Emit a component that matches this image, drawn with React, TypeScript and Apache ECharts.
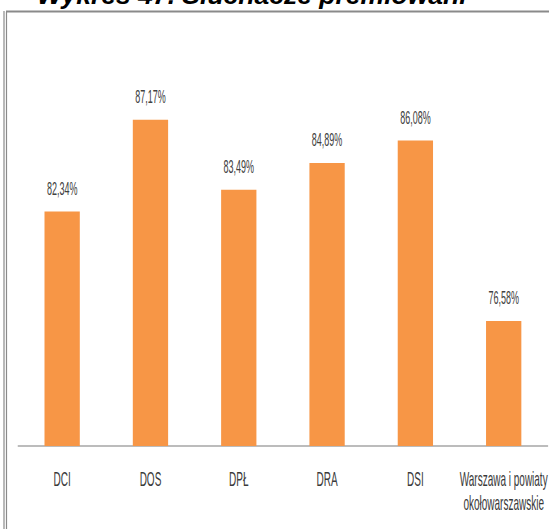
import React, { useEffect, useRef } from "react";
import * as echarts from "echarts";

const title = "Wykres 47. Słuchacze premiowani";
const categories = ["DCI", "DOS", "DPŁ", "DRA", "DSI", "Warszawa i powiaty\nokołowarszawskie"];
const values = [82.34, 87.17, 83.49, 84.89, 86.08, 76.58];
const yMin = 70;
const yMax = 90;

const SX = 0.5; // horizontal squeeze of the chart image
const W = 549;
const H = 529;
const NW = W / SX;
const FONT = "'Liberation Sans', Arial, sans-serif";

export default function App() {
  const ref = useRef<HTMLDivElement>(null);
  useEffect(() => {
    if (!ref.current) return;
    const chart = echarts.init(ref.current, undefined, { renderer: "svg" });
    const fmt = (v: number) => v.toFixed(2).replace(".", ",") + "%";
    chart.setOption({
      animation: false,
      backgroundColor: "#ffffff",
      grid: { left: 18 / SX, right: -1 / SX, top: 66, bottom: 83, containLabel: false },
      xAxis: {
        type: "category",
        data: categories,
        axisTick: { show: false },
        axisLine: { lineStyle: { color: "#a6a6a6", width: 1.5 } },
        axisLabel: {
          interval: 0,
          margin: 21,
          fontFamily: FONT,
          fontSize: 20,
          lineHeight: 24,
          color: "#3a3a3a",
        },
      },
      yAxis: {
        type: "value",
        min: yMin,
        max: yMax,
        show: false,
        splitLine: { show: false },
      },
      series: [
        {
          type: "bar",
          data: values,
          barWidth: 35.3 / SX,
          itemStyle: { color: "#F79646" },
          label: {
            show: true,
            position: "top",
            distance: 14,
            formatter: (p: any) => fmt(p.value),
            fontFamily: FONT,
            fontSize: 18,
            color: "#404040",
          },
        },
      ],
      graphic: [
        {
          type: "text",
          x: 37 / SX,
          y: -4.7,
          scaleX: 1 / SX,
          style: {
            text: title,
            font: "italic bold 26.5px 'Liberation Sans', Arial, sans-serif",
            fill: "#000000",
            verticalAlign: "middle",
            align: "left",
          },
        },
        {
          type: "line",
          shape: { x1: 4 / SX, y1: 11, x2: 4 / SX, y2: H },
          style: { stroke: "#8a8a8a", lineWidth: 1.2 / SX },
        },
        {
          type: "line",
          shape: { x1: 6.5 / SX, y1: 12, x2: 6.5 / SX, y2: H },
          style: { stroke: "#8a8a8a", lineWidth: 1.2 / SX },
        },
        {
          type: "line",
          shape: { x1: 6 / SX, y1: 11.5, x2: NW, y2: 11.5 },
          style: { stroke: "#8a8a8a", lineWidth: 2 },
        },
      ],
    });
    return () => chart.dispose();
  }, []);
  return (
    <div style={{ position: "fixed", left: 0, top: 0, width: W, height: H, overflow: "hidden", background: "#fff" }}>
      <div
        ref={ref}
        style={{ width: NW, height: H, transform: `scaleX(${SX})`, transformOrigin: "0 0" }}
      />
    </div>
  );
}
